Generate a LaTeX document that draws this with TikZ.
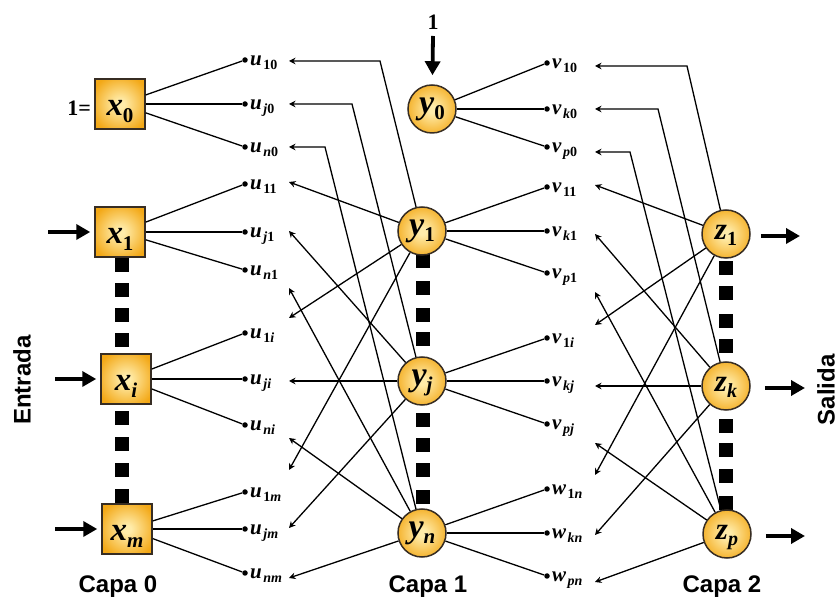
\documentclass[tikz,border=0pt]{standalone}
\usepackage{fontspec}
\setmainfont{Liberation Serif}
\setsansfont{Liberation Sans}
\usetikzlibrary{arrows.meta,shadings}
\definecolor{nodeorange}{RGB}{243,168,22}
\definecolor{nodelight}{RGB}{255,236,170}
\definecolor{nodeedge}{RGB}{55,45,35}
\pgfdeclareradialshading{nodeglow}{\pgfpoint{0bp}{0bp}}{color(0bp)=(nodelight); color(4bp)=(nodelight); color(30bp)=(nodeorange); color(50bp)=(nodeorange)}
\newcommand\blab[2]{\raisebox{-12pt}[0pt][0pt]{\fontsize{33}{33}\selectfont\bfseries\itshape #1\raisebox{-7pt}{\fontsize{21}{21}\selectfont\upshape #2}}}
\newcommand\ylab[2]{\raisebox{-5pt}[0pt][0pt]{\fontsize{34}{34}\selectfont\bfseries\itshape #1\raisebox{-6pt}{\fontsize{21}{21}\selectfont\upshape #2}}}
\newcommand\zlab[2]{\raisebox{-6pt}[0pt][0pt]{\fontsize{31}{31}\selectfont\bfseries\itshape #1\raisebox{-6pt}{\fontsize{20}{20}\selectfont\upshape #2}}}
\newcommand\wlab[2]{{\fontsize{21}{21}\selectfont\bfseries\itshape #1}\kern1.5pt\raisebox{-4pt}{\fontsize{14}{14}\selectfont\bfseries #2}}
\tikzset{
  inbox/.style={rectangle, draw=nodeedge, line width=1.5pt, shade, shading=nodeglow, minimum width=50pt, minimum height=50pt, inner sep=0pt},
  neuron/.style={circle, draw=nodeedge, line width=1.5pt, shade, shading=nodeglow, minimum size=48pt, inner sep=0pt},
  wt/.style={anchor=base west, inner sep=0pt},
  wdot/.style={circle, fill=black, inner sep=0pt, minimum size=5.5pt},
  conn/.style={line width=1.3pt},
  thickconn/.style={line width=2pt},
  back/.style={line width=1.3pt, -{Stealth[length=6.5pt,width=6.5pt]}},
  backthick/.style={line width=2pt, -{Stealth[length=6.5pt,width=6.5pt]}},
  bigarrow/.style={line width=3.8pt, -{Triangle[length=14pt,width=15pt]}},
  lay/.style={font=\sffamily\bfseries\fontsize{24}{24}\selectfont, inner sep=0pt},
  sq/.style={fill=black}
}
\begin{document}
\begin{tikzpicture}[x=1pt,y=-1pt]
\useasboundingbox (0,0) rectangle (839,601);
% dashes between layer units
\foreach \yy in {265,290,315,340,418,444,470,496} \fill[sq] (115,\yy-7) rectangle +(14,14);
\foreach \yy in {261,288,315,339,420,445,470,497} \fill[sq] (416,\yy-7) rectangle +(14,14);
\foreach \yy in {268,293,321,346,426,450,476,503} \fill[sq] (719,\yy-7) rectangle +(14,14);

% layer 0
\node[inbox] (x0) at (120,104) {\blab{x}{0}};
\node[inbox] (x1) at (120,232) {\blab{x}{1}};
\node[inbox] (xi) at (126,379) {\blab{x}{\textit{i}}};
\node[inbox] (xm) at (127,529) {\blab{x}{\textit{m}}};
% layer 1
\node[neuron] (y0) at (432,109) {\ylab{y}{0}};
\node[neuron] (y1) at (422,231) {\ylab{y}{1}};
\node[neuron] (yj) at (422,381) {\ylab{y}{\textit{j}}};
\node[neuron] (yn) at (422,533) {\ylab{y}{\textit{n}}};
% layer 2
\node[neuron] (z1) at (726,234) {\zlab{z}{1}};
\node[neuron] (zk) at (726,386) {\zlab{z}{\textit{k}}};
\node[neuron] (zp) at (727,534) {\zlab{z}{\textit{p}}};

% texts
\node[anchor=base east, inner sep=0pt, font=\bfseries\fontsize{22}{22}\selectfont] (oneeq) at (91,116) {1=};
\node[anchor=base, inner sep=0pt, font=\bfseries\fontsize{22}{22}\selectfont] (one) at (433,30) {1};
\node[lay, rotate=90] (entrada) at (22,380) {Entrada};
\node[lay, rotate=90] (salida) at (826,390) {Salida};
\node[lay, anchor=base] (capa0) at (118,593) {Capa 0};
\node[lay, anchor=base] (capa1) at (428,593) {Capa 1};
\node[lay, anchor=base] (capa2) at (722,593) {Capa 2};

% big arrows
\coordinate (in1) at (48,232);
\coordinate (ini) at (55,379);
\coordinate (inm) at (55,529);
\coordinate (inb) at (433,36);
\coordinate (o1) at (800,236);
\coordinate (ok) at (805,388);
\coordinate (op) at (805,536);
\draw[bigarrow, shorten >=4pt] (in1) -- (x1);
\draw[bigarrow, shorten >=4pt] (ini) -- (xi);
\draw[bigarrow, shorten >=4pt] (inm) -- (xm);
\draw[bigarrow, shorten >=9pt] (inb) -- (y0);
\draw[bigarrow] ([xshift=10pt]z1.east |- o1) -- (o1);
\draw[bigarrow] ([xshift=14pt]zk.east |- ok) -- (ok);
\draw[bigarrow] ([xshift=14pt]zp.east |- op) -- (op);

% ---- weight labels, left column (u)
\foreach \nm/\sbs/\dy/\ay in {u10/{10}/60/61, uj0/{\textit{j}0}/104/104, un0/{\textit{n}0}/147/147, u11/{11}/184/182, uj1/{\textit{j}1}/232/231, un1/{\textit{n}1}/270/288, u1i/{1\textit{i}}/333/318, uji/{\textit{ji}}/379/381, uni/{\textit{ni}}/425/438, u1m/{1\textit{m}}/492/470, ujm/{\textit{jm}}/529/528, unm/{\textit{nm}}/573/578} {
  \node[wdot] (\nm d) at (245,\dy) {};
  \node[wt] (\nm) at (250,\dy+6) {\wlab{u}{\sbs}};
  \coordinate (\nm a) at (289,\ay);
}
% ---- weight labels, right column (v, w)
\foreach \nm/\ltr/\sbs/\dy/\ay in {v10/v/{10}/63/66, vk0/v/{\textit{k}0}/109/109, vp0/v/{\textit{p}0}/147/152, v11/v/{11}/187/185, vk1/v/{\textit{k}1}/231/234, vp1/v/{\textit{p}1}/273/292, v1i/v/{1\textit{i}}/338/325, vkj/v/{\textit{kj}}/381/386, vpj/v/{\textit{pj}}/424/443, w1n/w/{1\textit{n}}/489/475, wkn/w/{\textit{kn}}/533/535, wpn/w/{\textit{pn}}/576/582} {
  \node[wdot] (\nm d) at (547,\dy) {};
  \node[wt] (\nm) at (552,\dy+6) {\wlab{\ltr}{\sbs}};
  \coordinate (\nm a) at (595,\ay);
}

% bends
\coordinate (u10b) at (380,61);
\coordinate (uj0b) at (352,104);
\coordinate (un0b) at (325,147);
\coordinate (v10b) at (687,66);
\coordinate (vk0b) at (658,109);
\coordinate (vp0b) at (630,152);

% forward connections layer 0 -> u
\draw[conn] (x0) -- (u10d);
\draw[thickconn] (x0) -- (uj0d);
\draw[conn] (x0) -- (un0d);
\draw[conn] (x1) -- (u11d);
\draw[thickconn] (x1) -- (uj1d);
\draw[conn] (x1) -- (un1d);
\draw[conn] (xi) -- (u1id);
\draw[thickconn] (xi) -- (ujid);
\draw[conn] (xi) -- (unid);
\draw[conn] (xm) -- (u1md);
\draw[thickconn] (xm) -- (ujmd);
\draw[conn] (xm) -- (unmd);
% forward connections layer 1 -> v, w
\draw[conn] (y0) -- (v10d);
\draw[thickconn] (y0) -- (vk0d);
\draw[conn] (y0) -- (vp0d);
\draw[conn] (y1) -- (v11d);
\draw[thickconn] (y1) -- (vk1d);
\draw[conn] (y1) -- (vp1d);
\draw[conn] (yj) -- (v1id);
\draw[thickconn] (yj) -- (vkjd);
\draw[conn] (yj) -- (vpjd);
\draw[conn] (yn) -- (w1nd);
\draw[thickconn] (yn) -- (wknd);
\draw[conn] (yn) -- (wpnd);

% backward connections layer 1 -> u
\draw[back] (y1) -- (u10b) -- (u10a);
\draw[back] (yj) -- (uj0b) -- (uj0a);
\draw[back] (yn) -- (un0b) -- (un0a);
\draw[back] (y1) -- (u11a);
\draw[back] (yj) -- (uj1a);
\draw[back] (yn) -- (un1a);
\draw[back] (y1) -- (u1ia);
\draw[backthick] (yj) -- (ujia);
\draw[back] (yn) -- (unia);
\draw[back] (y1) -- (u1ma);
\draw[back] (yj) -- (ujma);
\draw[back] (yn) -- (unma);
% backward connections layer 2 -> v, w
\draw[back] (z1) -- (v10b) -- (v10a);
\draw[back] (zk) -- (vk0b) -- (vk0a);
\draw[back] (zp) -- (vp0b) -- (vp0a);
\draw[back] (z1) -- (v11a);
\draw[back] (zk) -- (vk1a);
\draw[back] (zp) -- (vp1a);
\draw[back] (z1) -- (v1ia);
\draw[backthick] (zk) -- (vkja);
\draw[back] (zp) -- (vpja);
\draw[back] (z1) -- (w1na);
\draw[back] (zk) -- (wkna);
\draw[back] (zp) -- (wpna);
\end{tikzpicture}
\end{document}
